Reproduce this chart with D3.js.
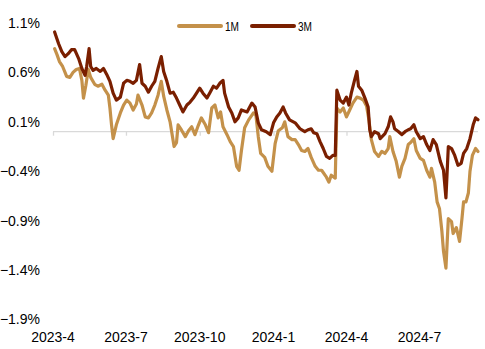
<!DOCTYPE html>
<html>
<head>
<meta charset="utf-8">
<script src="https://cdn.jsdelivr.net/npm/d3@7"></script>
<style>
  html, body { margin: 0; padding: 0; background: #fff; }
  svg { display: block; font-family: "Liberation Sans", Arial, sans-serif; }
</style>
</head>
<body>
<svg id="chart" width="485" height="349"></svg>
<script>
// Spread series, in percent
const seriesNames = ["1M", "3M"];
const seriesColors = ["#C4914A", "#7A1F00"];

const dates1M = ["2023-04-03","2023-04-06","2023-04-09","2023-04-13","2023-04-16","2023-04-18","2023-04-22","2023-04-26","2023-04-30","2023-05-04","2023-05-07","2023-05-09","2023-05-12","2023-05-15","2023-05-18","2023-05-23","2023-05-27","2023-06-01","2023-06-05","2023-06-09","2023-06-11","2023-06-13","2023-06-15","2023-06-19","2023-06-24","2023-06-28","2023-07-02","2023-07-06","2023-07-10","2023-07-14","2023-07-16","2023-07-21","2023-07-25","2023-07-29","2023-08-02","2023-08-06","2023-08-10","2023-08-14","2023-08-17","2023-08-21","2023-08-25","2023-08-27","2023-08-30","2023-09-02","2023-09-04","2023-09-08","2023-09-13","2023-09-17","2023-09-21","2023-09-25","2023-09-29","2023-10-03","2023-10-08","2023-10-12","2023-10-16","2023-10-20","2023-10-24","2023-10-27","2023-10-30","2023-11-04","2023-11-08","2023-11-12","2023-11-16","2023-11-19","2023-11-22","2023-11-26","2023-12-01","2023-12-07","2023-12-10","2023-12-13","2023-12-16","2023-12-21","2023-12-25","2023-12-30","2024-01-03","2024-01-07","2024-01-12","2024-01-15","2024-01-19","2024-01-24","2024-01-28","2024-02-01","2024-02-05","2024-02-09","2024-02-13","2024-02-17","2024-02-22","2024-02-26","2024-03-01","2024-03-07","2024-03-10","2024-03-13","2024-03-18","2024-03-20","2024-03-24","2024-03-28","2024-04-01","2024-04-05","2024-04-09","2024-04-14","2024-04-18","2024-04-22","2024-04-26","2024-04-29","2024-05-02","2024-05-06","2024-05-11","2024-05-15","2024-05-19","2024-05-23","2024-05-25","2024-05-29","2024-06-02","2024-06-06","2024-06-09","2024-06-13","2024-06-17","2024-06-20","2024-06-24","2024-06-27","2024-07-02","2024-07-06","2024-07-10","2024-07-14","2024-07-16","2024-07-20","2024-07-23","2024-07-26","2024-07-29","2024-07-31","2024-08-03","2024-08-06","2024-08-10","2024-08-12","2024-08-16","2024-08-20","2024-08-23","2024-08-25","2024-08-28","2024-08-31","2024-09-02","2024-09-05","2024-09-09","2024-09-12"];
const values1M = [0.84,0.78,0.71,0.66,0.60,0.56,0.55,0.60,0.63,0.64,0.52,0.34,0.47,0.63,0.55,0.48,0.46,0.48,0.42,0.37,0.24,0.07,-0.07,0.07,0.19,0.27,0.32,0.29,0.22,0.28,0.37,0.27,0.15,0.14,0.19,0.27,0.37,0.51,0.36,0.22,0.10,0.00,-0.15,-0.11,0.07,0.02,-0.05,0.01,0.05,-0.03,0.06,0.14,0.07,-0.01,0.24,0.27,0.14,0.20,0.05,-0.03,-0.10,-0.15,-0.35,-0.39,-0.19,0.04,0.12,0.19,0.17,-0.05,-0.22,-0.26,-0.35,-0.40,-0.12,0.01,0.04,0.10,-0.05,-0.08,-0.08,-0.13,-0.19,-0.20,-0.17,-0.26,-0.35,-0.39,-0.39,-0.46,-0.51,-0.44,-0.47,0.24,0.20,0.24,0.15,0.22,0.29,0.35,0.34,0.32,0.26,0.12,-0.08,-0.20,-0.25,-0.20,-0.22,-0.17,-0.05,-0.20,-0.30,-0.46,-0.35,-0.27,-0.13,-0.11,-0.07,-0.19,-0.27,-0.29,-0.39,-0.46,-0.37,-0.51,-0.71,-0.78,-1.01,-1.21,-1.38,-0.88,-0.91,-1.03,-0.97,-1.11,-0.88,-0.71,-0.71,-0.62,-0.40,-0.24,-0.17,-0.20];

const dates3M = ["2023-04-03","2023-04-08","2023-04-12","2023-04-16","2023-04-20","2023-04-24","2023-04-28","2023-05-03","2023-05-07","2023-05-11","2023-05-13","2023-05-16","2023-05-18","2023-05-21","2023-05-25","2023-05-30","2023-06-03","2023-06-07","2023-06-11","2023-06-15","2023-06-19","2023-06-24","2023-06-28","2023-07-02","2023-07-06","2023-07-10","2023-07-14","2023-07-18","2023-07-21","2023-07-25","2023-07-29","2023-08-02","2023-08-06","2023-08-10","2023-08-14","2023-08-17","2023-08-21","2023-08-25","2023-08-29","2023-09-02","2023-09-06","2023-09-10","2023-09-15","2023-09-19","2023-09-23","2023-09-27","2023-10-01","2023-10-05","2023-10-10","2023-10-14","2023-10-18","2023-10-22","2023-10-26","2023-10-30","2023-11-01","2023-11-06","2023-11-10","2023-11-14","2023-11-18","2023-11-22","2023-11-29","2023-12-05","2023-12-09","2023-12-13","2023-12-17","2023-12-23","2023-12-28","2024-01-01","2024-01-05","2024-01-09","2024-01-13","2024-01-16","2024-01-21","2024-01-28","2024-02-03","2024-02-09","2024-02-13","2024-02-17","2024-02-20","2024-02-24","2024-02-28","2024-03-03","2024-03-07","2024-03-11","2024-03-15","2024-03-18","2024-03-20","2024-03-24","2024-03-28","2024-04-01","2024-04-04","2024-04-07","2024-04-11","2024-04-14","2024-04-16","2024-04-20","2024-04-24","2024-04-28","2024-04-30","2024-05-02","2024-05-06","2024-05-11","2024-05-13","2024-05-19","2024-05-23","2024-05-26","2024-05-29","2024-05-31","2024-06-05","2024-06-09","2024-06-13","2024-06-17","2024-06-20","2024-06-24","2024-06-27","2024-07-02","2024-07-06","2024-07-10","2024-07-14","2024-07-18","2024-07-22","2024-07-27","2024-07-31","2024-08-03","2024-08-06","2024-08-10","2024-08-14","2024-08-18","2024-08-22","2024-08-25","2024-08-29","2024-09-02","2024-09-06","2024-09-09","2024-09-12"];
const values3M = [1.01,0.89,0.81,0.76,0.79,0.83,0.83,0.74,0.64,0.57,0.66,0.84,0.66,0.62,0.64,0.61,0.64,0.58,0.51,0.39,0.32,0.35,0.49,0.52,0.51,0.49,0.52,0.68,0.49,0.46,0.40,0.46,0.51,0.64,0.76,0.61,0.51,0.39,0.40,0.34,0.27,0.20,0.27,0.30,0.34,0.39,0.44,0.39,0.34,0.40,0.46,0.44,0.49,0.52,0.39,0.25,0.19,0.10,0.14,0.22,0.20,0.29,0.25,0.09,0.02,0.00,-0.03,0.09,0.15,0.19,0.25,0.19,0.12,0.09,0.03,0.00,0.02,0.03,-0.01,-0.02,-0.10,-0.17,-0.25,-0.27,-0.24,-0.24,0.42,0.32,0.29,0.35,0.27,0.39,0.52,0.61,0.46,0.42,0.34,0.25,0.02,-0.05,0.00,-0.02,-0.07,-0.02,0.05,0.15,0.10,0.03,0.00,-0.03,0.00,0.02,0.03,0.07,0.00,-0.07,-0.05,-0.13,-0.19,-0.08,-0.13,-0.30,-0.39,-0.67,-0.15,-0.17,-0.24,-0.34,-0.32,-0.22,-0.17,-0.07,0.07,0.14,0.12];

// Axis settings
const yTicks = [1.1, 0.6, 0.1, -0.4, -0.9, -1.4, -1.9];
const xTickDates = ["2023-04-01","2023-07-01","2023-10-01","2024-01-01","2024-04-01","2024-07-01"];
const xDomain = ["2023-04-01", "2024-09-12"];

const parse = d3.timeParse("%Y-%m-%d");
const svg = d3.select("#chart");

const x = d3.scaleTime()
  .domain(xDomain.map(parse))
  .range([53, 478]);
const y = d3.scaleLinear()
  .domain([-1.9, 1.1])
  .range([319.5, 23]);

// y-axis labels (no line)
const yAxis = d3.axisLeft(y)
  .tickValues(yTicks)
  .tickSize(0)
  .tickPadding(0)
  .tickFormat(d => d3.format(".1f")(d) + "%");
const gy = svg.append("g").attr("transform", "translate(40,0)").call(yAxis);
gy.select(".domain").remove();
gy.selectAll("text").attr("font-size", 14).attr("fill", "#000")
  .attr("font-family", "Liberation Sans, Arial, sans-serif");

// x-axis crossing at zero
const xAxis = d3.axisBottom(x)
  .tickValues(xTickDates.map(parse))
  .tickSize(4)
  .tickFormat(d3.timeFormat("%Y-%-m"));
const gx = svg.append("g").attr("transform", `translate(0,${y(0)})`).call(xAxis);
gx.select(".domain").attr("stroke", "#d9d9d9").attr("stroke-width", 1.3)
  .attr("d", `M${x.range()[0]},0H${x.range()[1]}`);
gx.selectAll(".tick line").attr("stroke", "#d9d9d9").attr("stroke-width", 1.3);
gx.selectAll("text").remove();

// x labels at the bottom of the chart
svg.append("g").selectAll("text")
  .data(xTickDates.map(parse))
  .join("text")
  .attr("x", d => x(d))
  .attr("y", 342)
  .attr("text-anchor", "middle")
  .attr("font-size", 14)
  .attr("fill", "#000")
  .text(d3.timeFormat("%Y-%-m"));

// series lines
const line = d3.line()
  .x(d => x(d.date))
  .y(d => y(d.value));

const series = [
  { name: seriesNames[0], color: seriesColors[0], data: dates1M.map((d, i) => ({ date: parse(d), value: values1M[i] })) },
  { name: seriesNames[1], color: seriesColors[1], data: dates3M.map((d, i) => ({ date: parse(d), value: values3M[i] })) }
];

svg.append("g").selectAll("path")
  .data(series)
  .join("path")
  .attr("d", s => line(s.data))
  .attr("fill", "none")
  .attr("stroke", s => s.color)
  .attr("stroke-width", 3.2)
  .attr("stroke-linejoin", "round")
  .attr("stroke-linecap", "round");

// legend
const legend = svg.append("g");
const legendX = [179, 252];
series.forEach((s, i) => {
  legend.append("line")
    .attr("x1", legendX[i]).attr("x2", legendX[i] + 42)
    .attr("y1", 26).attr("y2", 26)
    .attr("stroke", s.color).attr("stroke-width", 4)
    .attr("stroke-linecap", "round");
  legend.append("text")
    .attr("x", legendX[i] + 46).attr("y", 30.5)
    .attr("font-size", 12)
    .attr("fill", "#000")
    .attr("textLength", 14)
    .attr("lengthAdjust", "spacingAndGlyphs")
    .text(s.name);
});
</script>
</body>
</html>
